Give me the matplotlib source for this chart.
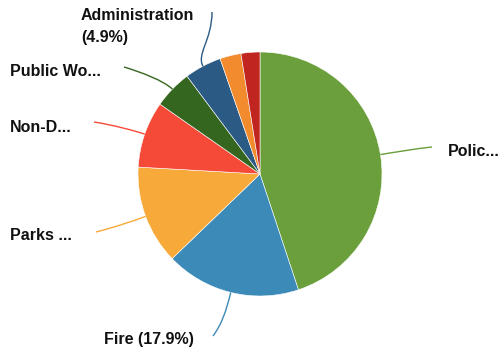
import numpy as np
import matplotlib
matplotlib.use("Agg")
import matplotlib.pyplot as plt
from matplotlib.path import Path
from matplotlib.patches import PathPatch

# Budget share by department (percent), clockwise from 12 o'clock
departments = ["Police", "Fire", "Parks & Recreation", "Non-Departmental",
               "Public Works", "Administration", "Library", "Other"]
shares = [44.9, 17.9, 13.1, 8.8, 5.1, 4.9, 2.8, 2.5]
colors = ["#6a9f3b", "#3c8ab8", "#f7aa3a", "#f64a38",
          "#35661f", "#2b5a84", "#f28a2e", "#c0261f"]

# Label text shown for each labelled slice (None = no label)
label_texts = ["Polic...", "Fire (17.9%)", "Parks ...", "Non-D...",
               "Public Wo...", "Administration\n(4.9%)", None, None]

W, H = 500, 350
CX, CY, R = 260, 174, 122

fig = plt.figure(figsize=(W / 100, H / 100), dpi=100)
ax = fig.add_axes([0, 0, 1, 1])
ax.set_xlim(0, W)
ax.set_ylim(0, H)
ax.set_aspect("equal")
ax.axis("off")


def py(y):
    return H - y


ax.pie(shares, colors=colors, startangle=90, counterclock=False,
       center=(CX, py(CY)), radius=R,
       wedgeprops=dict(edgecolor="white", linewidth=0.4))
ax.set_xlim(0, W)
ax.set_ylim(0, H)

# Label anchors: (text x, baseline y, line end x, line end y, back dx, back dy)
layout = {
    0: (448, 156, 432, 147, -1.0, 0.1),
    1: (104, 344, 213, 336, 0.6, -0.8),
    2: (10, 240, 96, 232, 1.0, -0.25),
    3: (10, 131.5, 94, 122, 1.0, 0.15),
    4: (10, 76.5, 124, 67, 1.0, 0.3),
    5: (81, 20, 212, 12, 0.0, 1.0),
}
line_lengths = {0: (12, 15), 1: (20, 14), 2: (12, 18), 3: (10, 18),
                4: (12, 18), 5: (14, 28)}

cum = np.cumsum([0] + shares)
for i, txt in enumerate(label_texts):
    if txt is None:
        continue
    mid = (cum[i] + cum[i + 1]) / 2 / 100 * 360
    a = np.deg2rad(mid)
    rx, ry = np.sin(a), -np.cos(a)
    sx, sy = CX + R * rx, CY + R * ry
    tx, tby, ex, ey, bdx, bdy = layout[i]
    l1, l2 = line_lengths[i]
    nb = np.hypot(bdx, bdy)
    p0 = (sx, py(sy))
    p1 = (sx + rx * l1, py(sy + ry * l1))
    p2 = (ex + bdx / nb * l2, py(ey + bdy / nb * l2))
    p3 = (ex, py(ey))
    path = Path([p0, p1, p2, p3],
                [Path.MOVETO, Path.CURVE4, Path.CURVE4, Path.CURVE4])
    ax.add_patch(PathPatch(path, facecolor="none", edgecolor=colors[i],
                           linewidth=1.0))
    lines = txt.split("\n")
    for k, ln in enumerate(lines):
        ax.text(tx, py(tby + k * 22), ln, ha="left", va="baseline",
                fontsize=11.5, fontweight="bold", color="#111111",
                family=["Liberation Sans", "DejaVu Sans"])

fig.savefig("out.png", dpi=100, facecolor="white")
